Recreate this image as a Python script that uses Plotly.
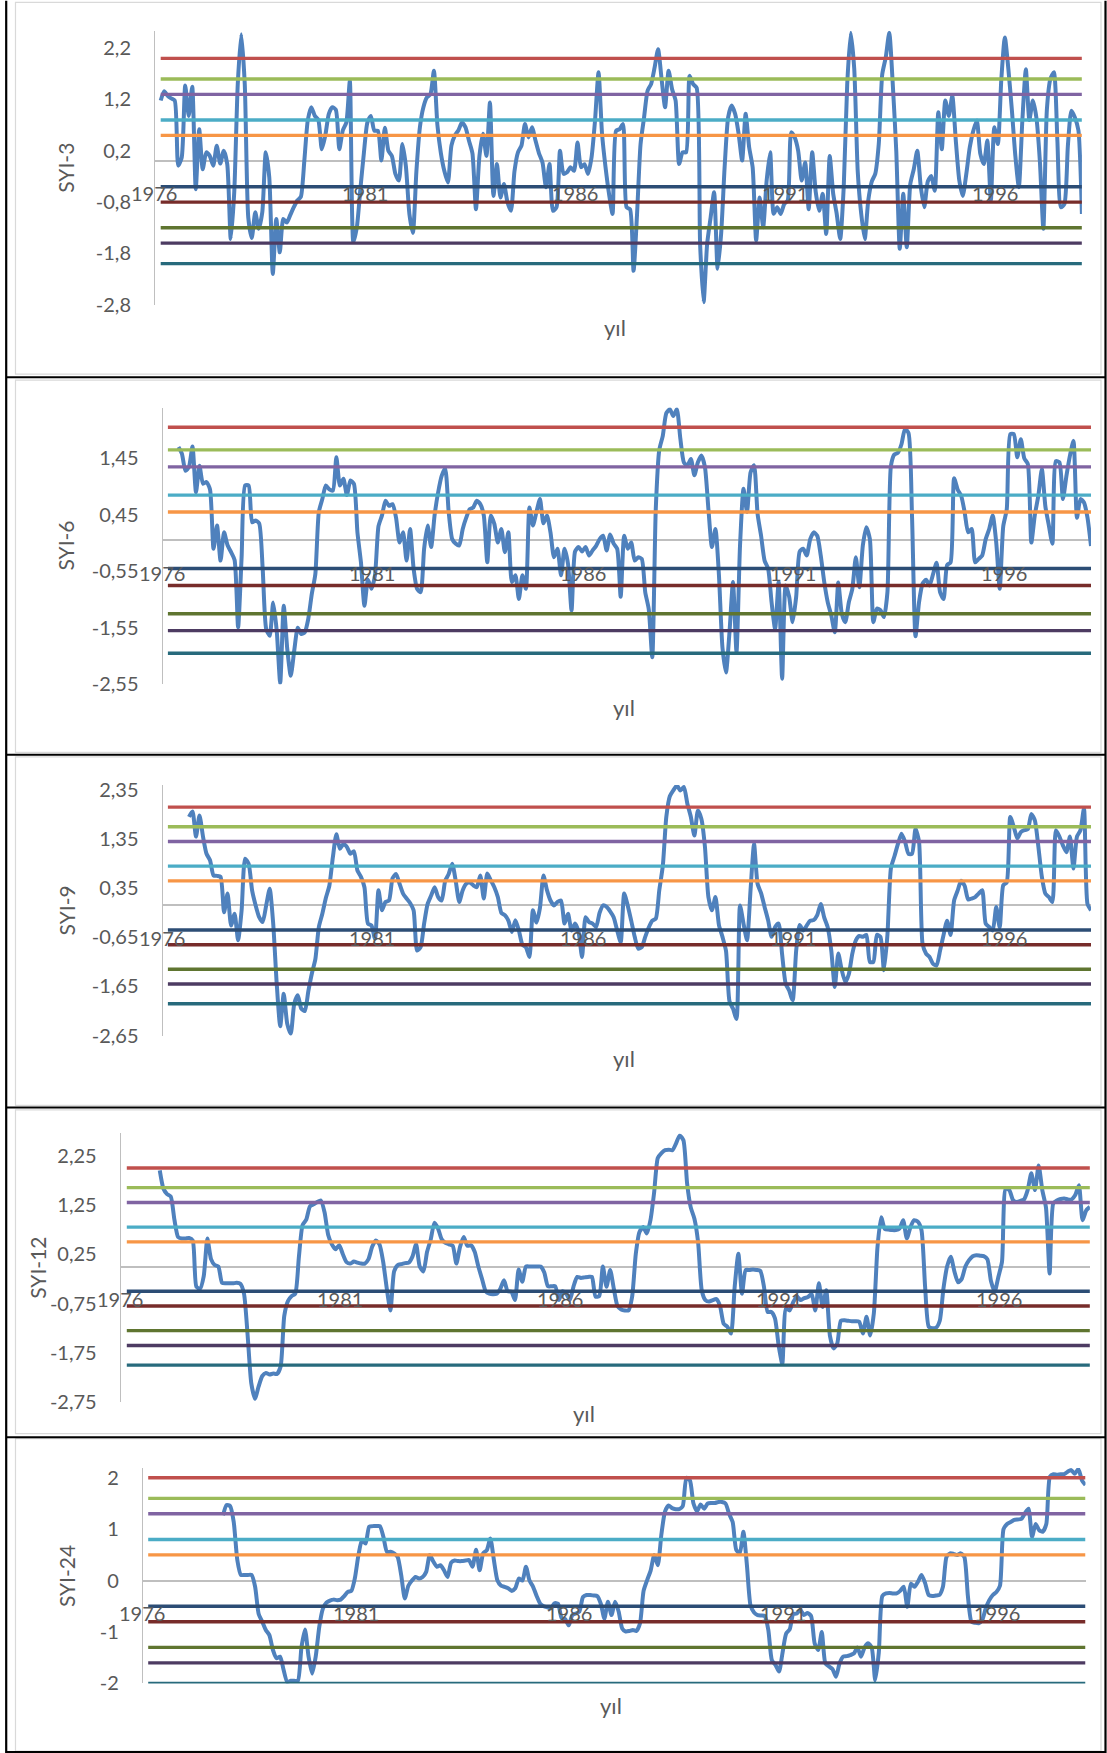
import plotly.graph_objects as go

W, H = 1107, 1753
N = 264  # monthly steps, 1976-1997

year_labels = ["1976", "1981", "1986", "1991", "1996"]
threshold_values = [2.0, 1.6, 1.3, 0.8, 0.5, -0.5, -0.8, -1.3, -1.6, -2.0]
threshold_colors = ["#C0504D", "#9BBB59", "#8064A2", "#4BACC6", "#F79646",
                    "#2C4D75", "#772C2A", "#5F7530", "#4D3B62", "#276A7C"]

syi3 = [
    1.18, 1.36, 1.27, 1.22, 1.18, -0.09, 0.07, 1.47, 0.88, 1.45, -0.55, 0.62,
    -0.16, 0.17, 0.10, -0.09, 0.30, -0.05, 0.20, -0.06, -1.52, -0.60, 1.50, 2.47,
    1.50, -1.10, -1.50, -1.00, -1.32, -1.00, 0.17, -0.32, -2.20, -1.13, -1.78, -1.13,
    -1.20, -1.05, -0.90, -0.77, -0.70, 0.00, 0.80, 1.05, 0.88, 0.80, 0.23, 0.50,
    0.92, 1.05, 1.00, 0.23, 0.60, 0.75, 1.56, -1.58, -1.29, -0.55, 0.15, 0.75,
    0.88, 0.59, 0.59, 0.01, 0.65, 0.20, 0.10, -0.25, -0.38, 0.33, -0.10, -1.03,
    -1.40, -0.20, 0.66, 1.05, 1.24, 1.30, 1.76, 0.70, 0.15, -0.20, -0.42, 0.30,
    0.50, 0.60, 0.75, 0.66, 0.40, 0.15, -0.94, 0.10, 0.53, 0.10, 1.14, -0.68,
    -0.06, -0.71, -0.45, -0.80, -0.97, -0.20, 0.17, 0.30, 0.72, 0.46, 0.66, 0.40,
    0.15, -0.03, -0.51, -0.06, -0.97, -0.90, 0.20, -0.25, -0.22, -0.12, -0.19, 0.36,
    -0.12, -0.06, -0.25, 0.07, 0.79, 1.73, 0.53, -0.12, -0.64, -1.03, 0.59, 0.62,
    0.72, -0.90, -0.94, -2.14, -1.03, 0.33, 0.85, 1.37, 1.50, 1.82, 2.18, 1.60,
    1.05, 1.76, 1.40, 1.18, -0.06, 0.17, 0.17, 1.66, 1.50, 1.43, -1.62, -2.75,
    -1.62, -1.10, -0.61, -2.10, -1.42, -0.12, 0.85, 1.08, 0.92, 0.53, 0.01, 0.92,
    0.27, -0.12, -1.55, -0.71, -1.29, -0.38, 0.17, -1.03, -0.90, -1.03, -0.84, -0.77,
    0.56, 0.46, 0.20, -0.38, -0.03, -0.94, 0.17, -0.60, -0.97, -0.64, -1.42, 0.10,
    -0.64, -1.03, -1.52, -0.51, 1.50, 2.50, 1.80, -0.20, -1.03, -1.52, -0.77, -0.40,
    -0.25, 0.33, 1.69, 2.02, 2.50, 1.50, 0.20, -1.71, -0.64, -1.68, -0.45, -0.16,
    0.20, -0.50, -0.90, -0.40, -0.29, -0.58, 0.95, 0.23, 1.18, 0.88, 1.27, 0.40,
    -0.38, -0.68, -0.25, 0.27, 0.59, 0.79, 0.14, -0.06, 0.40, -0.77, 0.66, 0.33,
    1.60, 2.41, 1.80, 1.00, 0.10, -0.51, 0.79, 1.79, 0.80, 1.18, 0.85, 0.00,
    -1.32, 1.00, 1.60, 1.73, 0.40, -0.90, -0.84, 0.30, 0.98, 0.85, 0.60, -1.03,
]

syi6 = [
    None, None, None, 1.65, 1.53, 1.23, 1.30, 1.66, 0.85, 1.32, 1.00, 1.03,
    0.90, -0.15, 0.26, -0.36, 0.14, -0.09, -0.21, -0.35, -1.54, -0.30, 0.97, 0.97,
    0.32, 0.35, 0.30, -0.50, -1.57, -1.69, -1.10, -1.60, -2.53, -1.16, -1.92, -2.40,
    -1.95, -1.55, -1.66, -1.63, -1.39, -0.95, -0.60, 0.50, 0.73, 0.97, 0.90, 0.88,
    1.47, 0.97, 1.09, 0.80, 1.06, 1.00, 0.14, -0.39, -1.16, -0.70, -0.86, -0.62,
    0.25, 0.44, 0.70, 0.61, 0.64, 0.40, -0.04, 0.14, -0.36, 0.20, -0.50, -0.86,
    -0.92, -0.15, 0.26, -0.12, 0.45, 0.85, 1.14, 1.27, 0.50, 0.02, -0.06, -0.09,
    0.20, 0.40, 0.55, 0.58, 0.70, 0.64, 0.44, -0.39, 0.44, 0.29, -0.04, 0.20,
    -0.21, 0.14, -0.74, -0.62, -1.04, -0.62, -0.86, 0.58, 0.26, 0.50, 0.73, 0.30,
    0.44, 0.14, -0.30, -0.15, -0.62, -0.15, -0.42, -1.24, -0.20, -0.12, -0.20, -0.12,
    -0.27, -0.18, -0.10, 0.02, 0.08, -0.18, 0.10, -0.06, -0.15, -1.00, 0.08, -0.15,
    -0.04, -0.36, -0.30, -0.33, -0.92, -1.22, -2.07, 0.55, 1.60, 1.85, 2.25, 2.32,
    2.20, 2.32, 1.80, 1.38, 1.32, 1.44, 1.15, 1.38, 1.50, 1.30, 0.55, -0.12,
    0.20, -0.62, -1.90, -2.34, -1.63, -0.74, -1.98, -0.10, 0.91, 0.50, 1.20, 1.33,
    0.47, 0.08, -0.36, -0.50, -1.10, -1.57, -0.74, -2.45, -0.80, -1.00, -1.45, -1.00,
    -0.20, -0.15, -0.27, 0.02, 0.14, 0.08, -0.27, -0.74, -1.10, -1.33, -1.63, -0.75,
    -1.30, -1.45, -1.10, -0.86, -0.30, -0.83, -0.09, 0.23, 0.02, -1.45, -1.21, -1.24,
    -1.36, -0.92, 1.32, 1.52, 1.55, 1.70, 1.97, 1.90, 0.44, -1.70, -1.10, -0.77,
    -0.70, -0.80, -0.60, -0.40, -0.92, -1.04, -0.44, -0.39, 1.10, 0.90, 0.79, 0.50,
    0.14, 0.20, -0.39, -0.33, -0.27, 0.02, 0.20, 0.44, -0.04, -0.86, 0.25, 0.55,
    1.88, 1.88, 1.47, 1.79, 1.45, 1.35, -0.04, 0.45, 0.79, 1.26, 0.60, 0.26,
    -0.06, 1.40, 1.38, 0.73, 1.14, 1.50, 1.76, 0.40, 0.73, 0.67, 0.40, -0.10,
]

syi9 = [
    None, None, None, None, None, None, 1.80, 1.91, 1.40, 1.83, 1.40, 1.05,
    0.92, 0.61, 0.60, 0.58, -0.14, 0.24, -0.41, -0.17, -0.71, -0.10, 0.95, 0.85,
    0.30, 0.00, -0.24, -0.34, 0.00, 0.34, -0.37, -1.59, -2.46, -1.80, -2.41, -2.61,
    -2.00, -1.83, -2.10, -2.15, -1.75, -1.39, -1.10, -0.44, -0.17, 0.15, 0.40, 0.98,
    1.45, 1.15, 1.25, 1.19, 1.05, 1.10, 0.71, 0.58, 0.37, -0.37, -0.41, -0.68,
    0.31, -0.10, 0.07, 0.10, 0.55, 0.64, 0.44, 0.24, 0.14, 0.05, -0.10, -0.92,
    -0.85, -0.37, 0.03, 0.20, 0.37, 0.17, 0.10, 0.50, 0.64, 0.85, 0.50, 0.07,
    0.31, 0.44, 0.47, 0.41, 0.37, 0.61, 0.14, 0.65, 0.51, 0.37, 0.17, -0.15,
    -0.20, -0.31, -0.54, -0.30, -0.51, -0.80, -0.85, -1.05, -0.10, -0.35, -0.05, 0.61,
    0.31, 0.10, 0.00, 0.07, 0.10, -0.37, -0.17, -0.51, -0.37, -0.54, -1.05, -0.24,
    -0.34, -0.37, -0.44, -0.15, 0.00, -0.03, -0.12, -0.24, -0.51, -0.75, 0.24, 0.00,
    -0.31, -0.64, -0.88, -0.85, -0.64, -0.45, -0.31, -0.27, 0.31, 0.80, 1.80, 2.22,
    2.34, 2.44, 2.34, 2.41, 2.07, 1.80, 1.42, 1.93, 1.76, 1.20, 0.17, -0.10,
    0.17, -0.40, -0.64, -0.92, -1.95, -2.10, -2.31, 0.00, -0.37, -0.71, 0.31, 1.25,
    0.44, 0.25, -0.03, -0.30, -0.64, -0.44, -0.37, -1.00, -1.59, -1.73, -1.93, -0.92,
    -0.40, -0.51, -0.41, -0.31, -0.30, -0.20, 0.03, -0.25, -0.45, -0.92, -1.66, -0.98,
    -1.32, -1.56, -1.40, -0.98, -0.71, -0.62, -0.64, -0.60, -1.15, -1.15, -0.60, -0.64,
    -1.32, -0.60, 0.76, 1.00, 1.25, 1.46, 1.30, 1.05, 1.05, 1.56, 1.30, -0.78,
    -0.98, -1.05, -1.19, -1.22, -0.92, -0.60, -0.31, -0.60, 0.10, 0.30, 0.50, 0.40,
    0.12, 0.14, 0.17, 0.24, 0.31, -0.37, -0.44, -0.51, -0.03, -0.45, 0.41, 0.47,
    1.80, 1.60, 1.36, 1.49, 1.53, 1.55, 1.86, 1.73, 1.20, 0.58, 0.24, 0.17,
    0.07, 1.53, 1.40, 1.22, 1.08, 1.40, 0.75, 1.40, 1.53, 1.97, 0.03, -0.10,
]

syi12 = [
    None, None, None, None, None, None, None, None, None, 1.95, 1.58, 1.47,
    1.42, 0.95, 0.60, 0.57, 0.57, 0.58, 0.53, -0.41, -0.45, -0.20, 0.57, 0.15,
    0.03, 0.00, -0.33, -0.34, -0.34, -0.34, -0.33, -0.35, -0.55, -1.40, -2.37, -2.68,
    -2.43, -2.22, -2.16, -2.19, -2.17, -2.18, -2.03, -1.00, -0.70, -0.60, -0.55, 0.20,
    0.84, 0.95, 1.22, 1.26, 1.31, 1.34, 1.10, 0.64, 0.45, 0.35, 0.43, 0.25,
    0.09, 0.06, 0.10, 0.08, 0.06, 0.06, 0.15, 0.40, 0.53, 0.45, 0.10, -0.45,
    -0.89, -0.10, 0.03, 0.05, 0.07, 0.08, 0.20, 0.45, 0.00, -0.10, 0.30, 0.55,
    0.89, 0.77, 0.55, 0.48, 0.45, 0.42, 0.06, 0.40, 0.60, 0.42, 0.43, 0.30,
    0.00, -0.25, -0.50, -0.55, -0.56, -0.55, -0.45, -0.28, -0.50, -0.51, -0.68, -0.06,
    -0.31, 0.00, 0.00, 0.00, 0.00, 0.00, -0.12, -0.40, -0.40, -0.40, -0.68, -0.50,
    -0.55, -0.68, -0.40, -0.21, -0.23, -0.22, -0.21, -0.21, -0.61, -0.60, 0.00, -0.41,
    -0.07, -0.45, -0.80, -0.87, -0.89, -0.89, -0.61, 0.26, 0.70, 0.80, 0.67, 0.94,
    1.50, 2.20, 2.30, 2.36, 2.37, 2.36, 2.50, 2.66, 2.56, 1.69, 1.20, 0.97,
    0.50, -0.48, -0.68, -0.71, -0.68, -0.66, -0.80, -1.16, -1.22, -1.36, -0.41, 0.26,
    -0.55, -0.07, -0.07, -0.06, -0.07, -0.09, -0.41, -0.92, -0.92, -1.05, -1.60, -1.97,
    -0.85, -0.89, -0.72, -0.61, -0.68, -0.64, -0.62, -0.55, -0.89, -0.34, -0.82, -0.48,
    -1.40, -1.66, -1.56, -1.10, -1.09, -1.10, -1.11, -1.11, -1.12, -1.36, -1.02, -1.40,
    -0.95, 0.40, 1.00, 0.76, 0.75, 0.74, 0.74, 0.77, 0.94, 0.57, 0.80, 0.94,
    0.91, 0.74, -0.41, -1.22, -1.25, -1.24, -1.10, -0.45, 0.00, 0.20, -0.10, -0.32,
    -0.25, 0.00, 0.13, 0.21, 0.23, 0.22, 0.21, 0.15, -0.30, -0.51, -0.21, 0.10,
    1.58, 1.55, 1.35, 1.31, 1.33, 1.36, 1.55, 1.89, 1.55, 2.05, 1.55, 1.20,
    -0.14, 1.28, 1.34, 1.37, 1.38, 1.36, 1.36, 1.45, 1.65, 0.94, 1.14, 1.21,
]

syi24 = [
    None, None, None, None, None, None, None, None, None, None, None, None,
    None, None, None, None, None, None, None, None, None, 1.27, 1.47, 1.45,
    1.14, 0.40, 0.11, 0.11, 0.11, 0.11, -0.12, -0.65, -0.80, -0.96, -1.06, -1.35,
    -1.51, -1.48, -1.74, -1.97, -1.95, -1.95, -1.95, -1.30, -0.95, -1.48, -1.81, -1.48,
    -0.90, -0.55, -0.43, -0.39, -0.37, -0.38, -0.37, -0.30, -0.22, -0.20, 0.05, 0.50,
    0.79, 0.72, 1.05, 1.06, 1.06, 1.06, 0.85, 0.56, 0.56, 0.53, 0.46, 0.10,
    -0.35, -0.10, 0.00, 0.07, 0.04, 0.07, 0.17, 0.50, 0.37, 0.27, 0.30, 0.20,
    0.07, 0.35, 0.39, 0.38, 0.38, 0.39, 0.40, 0.27, 0.60, 0.20, 0.53, 0.59,
    0.82, 0.40, 0.00, -0.10, -0.12, -0.15, -0.20, -0.15, 0.04, 0.00, 0.27, 0.00,
    -0.12, -0.30, -0.45, -0.50, -0.52, -0.54, -0.44, -0.45, -0.73, -0.75, -0.87, -0.67,
    -0.64, -0.60, -0.32, -0.28, -0.28, -0.29, -0.30, -0.45, -0.74, -0.41, -0.67, -0.41,
    -0.60, -0.93, -0.99, -0.98, -0.96, -0.98, -0.83, -0.20, 0.01, 0.20, 0.50, 0.30,
    0.90, 1.34, 1.46, 1.41, 1.39, 1.39, 1.45, 2.00, 1.95, 1.50, 1.35, 1.48,
    1.40, 1.50, 1.51, 1.51, 1.53, 1.53, 1.50, 1.30, 1.14, 0.60, 0.53, 0.95,
    0.30, -0.48, -0.62, -0.67, -0.68, -0.69, -0.96, -1.55, -1.64, -1.77, -1.40, -1.03,
    -0.95, -0.65, -0.64, -0.57, -0.67, -0.63, -0.69, -1.22, -1.35, -1.00, -1.61, -1.67,
    -1.72, -1.87, -1.61, -1.48, -1.47, -1.45, -1.42, -1.30, -1.48, -1.30, -1.22, -1.30,
    -1.94, -1.40, -0.30, -0.25, -0.24, -0.25, -0.25, -0.20, -0.12, -0.51, -0.06, -0.12,
    -0.02, 0.11, -0.05, -0.28, -0.30, -0.29, -0.28, -0.12, 0.46, 0.53, 0.52, 0.50,
    0.53, 0.46, -0.30, -0.80, -0.82, -0.83, -0.77, -0.54, -0.38, -0.28, -0.22, -0.10,
    1.00, 1.10, 1.14, 1.18, 1.19, 1.20, 1.31, 1.40, 0.85, 1.10, 0.98, 0.95,
    1.10, 2.02, 2.07, 2.06, 2.07, 2.07, 2.12, 2.15, 2.08, 2.17, 1.95, 1.86,
]

# per-panel layout (pixel geometry on the page) and axis settings
panels = [
    dict(name="SYI-3", series=syi3, ax=155.0, first=160.7, last=1081.9,
         zero=160.3, ppu=51.33, ymin=-2.801, ymax=2.54,
         yticks=[2.2, 1.2, 0.2, -0.8, -1.8, -2.8],
         title_xy=(66, 167), yil_xy=(614.6, 326.7)),
    dict(name="SYI-6", series=syi6, ax=162.5, first=167.9, last=1091.0,
         zero=539.7, ppu=56.5, ymin=-2.551, ymax=2.35,
         yticks=[1.45, 0.45, -0.55, -1.55, -2.55],
         title_xy=(66, 545), yil_xy=(623.8, 706.7)),
    dict(name="SYI-9", series=syi9, ax=162.5, first=167.9, last=1091.0,
         zero=905.0, ppu=49.17, ymin=-2.651, ymax=2.45,
         yticks=[2.35, 1.35, 0.35, -0.65, -1.65, -2.65],
         title_xy=(66, 910), yil_xy=(623.8, 1058)),
    dict(name="SYI-12", series=syi12, ax=120.7, first=126.8, last=1089.9,
         zero=1266.3, ppu=49.33, ymin=-2.751, ymax=2.70,
         yticks=[2.25, 1.25, 0.25, -0.75, -1.75, -2.75],
         title_xy=(37.5, 1268), yil_xy=(583.7, 1413.3)),
    dict(name="SYI-24", series=syi24, ax=142.9, first=148.2, last=1085.5,
         zero=1580.5, ppu=51.42, ymin=-2.001, ymax=2.19,
         yticks=[2, 1, 0, -1, -2],
         title_xy=(66, 1576), yil_xy=(611, 1705)),
]

TXT = "#595959"
FONT = "Lato"

# vertical page mapping (scale and offset of the printed page)
SY, OY = 0.9896, 7.2


def fx(x):
    return x / W


def fy(y):
    return 1 - ((y - OY) / SY) / H


def fmt(v):
    return ("%g" % v).replace(".", ",")


fig = go.Figure()
months = list(range(N))
layout = {}
annotations = []

for k, p in enumerate(panels, start=1):
    xa = "x" if k == 1 else "x%d" % k
    ya = "y" if k == 1 else "y%d" % k
    step = (p["last"] - p["first"]) / (N - 1)
    x_left = -(p["first"] - p["ax"]) / step
    top = p["zero"] - p["ymax"] * p["ppu"]
    bottom = p["zero"] - p["ymin"] * p["ppu"]

    fig.add_trace(go.Scatter(
        x=months, y=p["series"], mode="lines", xaxis=xa, yaxis=ya,
        line=dict(color="#4F81BD", width=4.0, shape="spline", smoothing=0.6),
        showlegend=False, hoverinfo="skip"))
    for val, col in zip(threshold_values, threshold_colors):
        fig.add_trace(go.Scatter(
            x=[0, N - 1], y=[val, val], mode="lines", xaxis=xa, yaxis=ya,
            line=dict(color=col, width=3.4), showlegend=False, hoverinfo="skip"))

    layout["xaxis" if k == 1 else "xaxis%d" % k] = dict(
        domain=[fx(p["ax"]), fx(p["last"])], range=[x_left, N - 1],
        anchor=ya, showticklabels=False, showgrid=False, zeroline=False,
        showline=False, ticks="", fixedrange=True)
    layout["yaxis" if k == 1 else "yaxis%d" % k] = dict(
        domain=[fy(bottom), fy(top)], range=[p["ymin"], p["ymax"]],
        anchor=xa, tickmode="array", tickvals=p["yticks"],
        ticktext=[fmt(v) for v in p["yticks"]],
        tickfont=dict(family=FONT, size=20, color=TXT),
        ticks="", ticklabelstandoff=19,
        showgrid=False, showline=True, linecolor="#BFBFBF", linewidth=1,
        zeroline=True, zerolinecolor="#BFBFBF", zerolinewidth=1.5,
        fixedrange=True)

    # year labels sit just under the zero line, one every five years
    for j, lab in enumerate(year_labels):
        x_px = p["first"] + (60 * j - 1.8) * step
        annotations.append(dict(
            x=fx(x_px), y=0, xref="paper", yref=ya, text=lab, showarrow=False,
            yshift=-32 / SY, xanchor="center", yanchor="middle",
            font=dict(family=FONT, size=20, color=TXT)))

    tx, ty = p["title_xy"]
    annotations.append(dict(
        x=fx(tx), y=fy(ty), xref="paper", yref="paper", text=p["name"],
        textangle=-90, showarrow=False, xanchor="center", yanchor="middle",
        font=dict(family=FONT, size=21, color=TXT)))
    lx, ly = p["yil_xy"]
    annotations.append(dict(
        x=fx(lx), y=fy(ly), xref="paper", yref="paper", text="yıl",
        showarrow=False, xanchor="center", yanchor="middle",
        font=dict(family=FONT, size=22, color=TXT)))

# table cell borders and chart-area frames
shapes = []
frames = [(1.5, 373.5), (379.5, 752.0), (756.5, 1105.0), (1109.5, 1433.5), (1438.5, 1751.0)]
for t, b in frames:
    shapes.append(dict(type="rect", xref="paper", yref="paper",
                       x0=fx(15.5), x1=fx(1101), y0=fy(b), y1=fy(t),
                       line=dict(color="#D9D9D9", width=1.2), layer="below"))
for y in [376.7, 754.2, 1107.3, 1437.0, 1752.0]:
    shapes.append(dict(type="line", xref="paper", yref="paper",
                       x0=fx(6.2), x1=fx(1105.5), y0=fy(y), y1=fy(y),
                       line=dict(color="#000000", width=2)))
for x in [6.2, 1105.5]:
    shapes.append(dict(type="line", xref="paper", yref="paper",
                       x0=fx(x), x1=fx(x), y0=fy(0), y1=fy(H),
                       line=dict(color="#000000", width=2.2)))

fig.update_layout(
    width=W, height=H, autosize=False,
    margin=dict(l=0, r=0, t=0, b=0, pad=0),
    paper_bgcolor="white", plot_bgcolor="rgba(0,0,0,0)",
    font=dict(family=FONT, color=TXT),
    annotations=annotations, shapes=shapes, showlegend=False,
    **layout)

fig.write_html("out.html", config={"displayModeBar": False})
